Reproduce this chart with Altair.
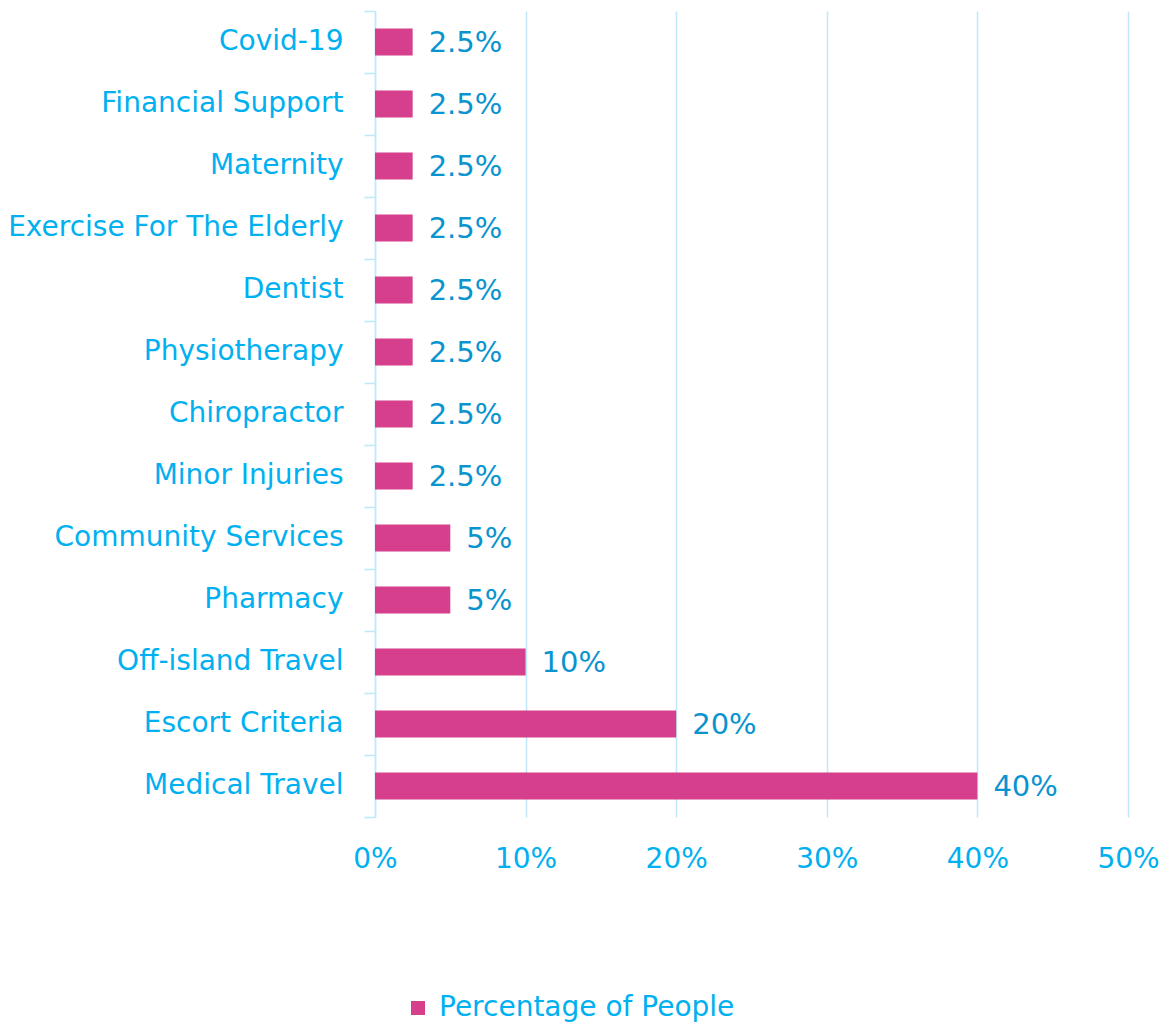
import altair as alt
import pandas as pd

categories = ["Covid-19", "Financial Support", "Maternity", "Exercise For The Elderly",
              "Dentist", "Physiotherapy", "Chiropractor", "Minor Injuries",
              "Community Services", "Pharmacy", "Off-island Travel", "Escort Criteria",
              "Medical Travel"]
values = [2.5, 2.5, 2.5, 2.5, 2.5, 2.5, 2.5, 2.5, 5, 5, 10, 20, 40]
labels = ["2.5%", "2.5%", "2.5%", "2.5%", "2.5%", "2.5%", "2.5%", "2.5%",
          "5%", "5%", "10%", "20%", "40%"]
series = "Percentage of People"

df = pd.DataFrame({"cat": categories, "val": values, "lab": labels, "series": series})

FONT = "DejaVu Sans"
FS = 28
AXIS_BLUE = "#00B0F0"
VAL_BLUE = "#0A94CF"
PINK = "#D63F8C"
GRID = "#BFE9FA"

y = alt.Y("cat:N", sort=categories, title=None,
          scale=alt.Scale(padding=0),
          axis=alt.Axis(bandPosition=1, tickExtra=True, tickSize=11, tickColor=GRID,
                        tickWidth=1.5, domainColor=GRID, domainWidth=1.5,
                        labelPadding=21, labelFontSize=FS, labelLimit=400,
                        labelColor=AXIS_BLUE, labelFont=FONT, grid=False))

bars = alt.Chart(df).mark_bar(size=27).encode(
    x=alt.X("val:Q", title=None,
            scale=alt.Scale(domain=[0, 50]),
            axis=alt.Axis(values=[0, 10, 20, 30, 40, 50], labelExpr="datum.value + '%'",
                          domain=False, ticks=False, grid=True, gridColor=GRID,
                          gridWidth=1.5, labelFlush=False,
                          labelPadding=28, labelFontSize=FS, labelColor=AXIS_BLUE,
                          labelFont=FONT)),
    y=y,
    color=alt.Color("series:N", title=None,
                    scale=alt.Scale(range=[PINK]),
                    legend=alt.Legend(orient="none", legendX=29, legendY=983,
                                      symbolType="square", symbolSize=196,
                                      symbolStrokeWidth=0, labelFontSize=FS,
                                      labelColor=AXIS_BLUE, labelFont=FONT,
                                      labelLimit=500, padding=0, labelOffset=7)),
)

text = alt.Chart(df).mark_text(align="left", baseline="middle", dx=16, dy=1,
                               fontSize=29, font=FONT, color=VAL_BLUE).encode(
    x="val:Q", y=alt.Y("cat:N", sort=categories), text="lab:N")

chart = alt.layer(bars, text).properties(
    width=753, height=806,
    padding={"left": 375, "top": 11, "right": 43, "bottom": 208},
    autosize=alt.AutoSizeParams(type="none"),
).configure_view(stroke=None)

chart.save("out.html", embed_options={"renderer": "svg", "actions": False})
